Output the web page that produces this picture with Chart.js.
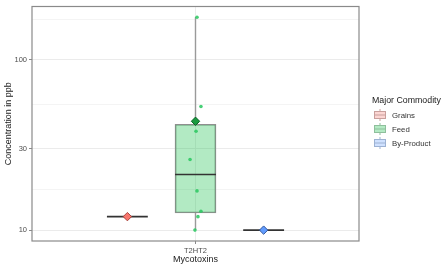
<!DOCTYPE html>
<html>
<head>
<meta charset="utf-8">
<script src="https://cdn.jsdelivr.net/npm/chart.js@4.4.1/dist/chart.umd.min.js"></script>
<style>
  html, body { margin: 0; padding: 0; background: #fff; }
  #wrap { position: relative; width: 447px; height: 268px; }
  #legend { position: absolute; left: 372px; top: 95px; font-family: "Liberation Sans", Arial, sans-serif; color: #1a1a1a; white-space: nowrap; }
  #legend .title { font-size: 8.8px; margin-bottom: 3px; }
  #legend .item { display: flex; align-items: center; height: 14px; font-size: 7.8px; color: #333; }
  #legend svg { margin-right: 6px; margin-left: 2px; }
</style>
</head>
<body>
<div id="wrap">
  <canvas id="chart" width="447" height="268"></canvas>
  <div id="legend"></div>
</div>
<script>
// data
const categories = ['T2HT2'];
const groups = ['Grains', 'Feed', 'By-Product'];
const groupX = [0.75, 1, 1.25];           // dodged positions around category 1
const boxHalf = 0.075;
const q1 = [12, 12.6, 10];
const median = [12, 21.2, 10];
const q3 = [12, 41.9, 10];
const whiskerLow = [12, 10, 10];
const whiskerHigh = [12, 178, 10];
const means = [12, 43.6, 10];
const feedPointsX = [1.0055, 1.02, 1.002, 0.98, 1.0055, 1.02, 1.009, 0.998];
const feedPointsY = [178, 53.3, 38.1, 26, 17, 12.9, 12, 10];
const yTickValues = [10, 30, 100];
const yMinorValues = [17.32, 54.77, 173.2];

const fillColors = ['rgba(248,118,109,0.3)', 'rgba(0,186,56,0.3)', 'rgba(97,156,255,0.3)'];
const meanColors = ['#F8766D', '#1a9a40', '#619CFF'];
const meanBorders = ['#a8433c', '#0b6426', '#34589c'];

const datasets = [];

// means (on top)
datasets.push({
  type: 'scatter',
  data: groupX.map((x, i) => ({ x: x, y: means[i] })),
  pointStyle: 'rectRot',
  pointRadius: 4.2,
  backgroundColor: meanColors,
  borderColor: meanBorders,
  borderWidth: 1,
});

// jittered feed points
datasets.push({
  type: 'scatter',
  data: feedPointsX.map((x, i) => ({ x: x, y: feedPointsY[i] })),
  pointRadius: 1.8,
  backgroundColor: 'rgba(40,200,95,0.85)',
  borderWidth: 0,
});

// medians
groups.forEach((g, i) => {
  datasets.push({
    type: 'scatter',
    showLine: true,
    data: [{ x: groupX[i] - boxHalf, y: median[i] }, { x: groupX[i] + boxHalf, y: median[i] }],
    borderColor: '#333333',
    borderWidth: 1.6,
    pointRadius: 0,
  });
});

// whiskers
groups.forEach((g, i) => {
  [[whiskerLow[i], q1[i]], [q3[i], whiskerHigh[i]]].forEach(([a, b]) => {
    if (a === b) return;
    datasets.push({
      type: 'scatter',
      showLine: true,
      data: [{ x: groupX[i], y: a }, { x: groupX[i], y: b }],
      borderColor: '#9a9a9a',
      borderWidth: 1.4,
      pointRadius: 0,
    });
  });
});

// boxes (q1..q3) as floating bars
groups.forEach((g, i) => {
  if (q1[i] === q3[i]) return;
  datasets.push({
    type: 'bar',
    data: [{ x: groupX[i], y: [q1[i], q3[i]] }],
    backgroundColor: fillColors[i],
    borderColor: '#8f8f8f',
    borderWidth: 1,
    borderSkipped: false,
    barThickness: 41,
    grouped: false,
  });
});

const panelBorder = {
  id: 'panelBorder',
  afterDraw(c) {
    const a = c.chartArea;
    const ctx = c.ctx;
    ctx.save();
    ctx.strokeStyle = '#8a8a8a';
    ctx.lineWidth = 1.2;
    ctx.strokeRect(a.left, a.top, a.right - a.left, a.bottom - a.top);
    ctx.restore();
  }
};

const font = 'Liberation Sans, Arial, sans-serif';

new Chart(document.getElementById('chart'), {
  type: 'scatter',
  data: { datasets: datasets },
  options: {
    responsive: false,
    animation: false,
    layout: { padding: { top: 4, right: 88, bottom: 0, left: 0 } },
    scales: {
      x: {
        type: 'linear',
        min: 0.4,
        max: 1.6,
        offset: false,
        afterBuildTicks: (s) => { s.ticks = categories.map((c, i) => ({ value: i + 1 })); },
        afterFit: (s) => { s.height = 27; },
        ticks: {
          callback: (v) => categories[Math.round(v) - 1] || '',
          color: '#4d4d4d',
          font: { family: font, size: 7.5 },
          padding: 2,
          maxRotation: 0,
        },
        grid: { offset: false, color: '#ececec', lineWidth: 1, tickLength: 3, tickColor: '#8a8a8a' },
        border: { display: false },
        title: { display: true, text: 'Mycotoxins', color: '#1a1a1a', font: { family: font, size: 9 }, padding: { top: 0, bottom: 3 } },
      },
      y: {
        type: 'logarithmic',
        min: 8.63,
        max: 206,
        afterBuildTicks: (s) => {
          s.ticks = yTickValues.concat(yMinorValues).sort((a, b) => a - b).map(v => ({ value: v }));
        },
        afterFit: (s) => { s.width = 32; },
        ticks: {
          callback: (v) => yTickValues.includes(v) ? String(v) : '',
          color: '#4d4d4d',
          font: { family: font, size: 7.5 },
          padding: 2,
        },
        grid: {
          color: (ctx) => yTickValues.includes(ctx.tick && ctx.tick.value) ? '#ebebeb' : '#f4f4f4',
          lineWidth: 1,
          tickLength: 3,
          tickColor: (ctx) => yTickValues.includes(ctx.tick && ctx.tick.value) ? '#8a8a8a' : 'rgba(0,0,0,0)',
        },
        border: { display: false },
        title: { display: true, text: 'Concentration in ppb', color: '#1a1a1a', font: { family: font, size: 9 }, padding: { top: 3, bottom: 0 } },
      },
    },
    plugins: {
      legend: { display: false },
      tooltip: { enabled: false },
    },
  },
  plugins: [panelBorder],
});

// html legend with small boxplot keys
const legendEl = document.getElementById('legend');
const keyFills = ['#fcd6d3', '#b3eac3', '#cfe1ff'];
const keyBorders = ['#c9a09d', '#8fbf9c', '#9db2d3'];
legendEl.innerHTML = '<div class="title">Major Commodity</div>' + groups.map((g, i) =>
  '<div class="item"><svg width="12" height="12">' +
  '<line x1="6" y1="0" x2="6" y2="12" stroke="' + keyBorders[i] + '" stroke-width="1"/>' +
  '<rect x="0.5" y="2.5" width="11" height="7" fill="' + keyFills[i] + '" stroke="' + keyBorders[i] + '"/>' +
  '<line x1="0.5" y1="6" x2="11.5" y2="6" stroke="' + keyBorders[i] + '" stroke-width="1"/>' +
  '</svg>' + g + '</div>').join('');
</script>
</body>
</html>
